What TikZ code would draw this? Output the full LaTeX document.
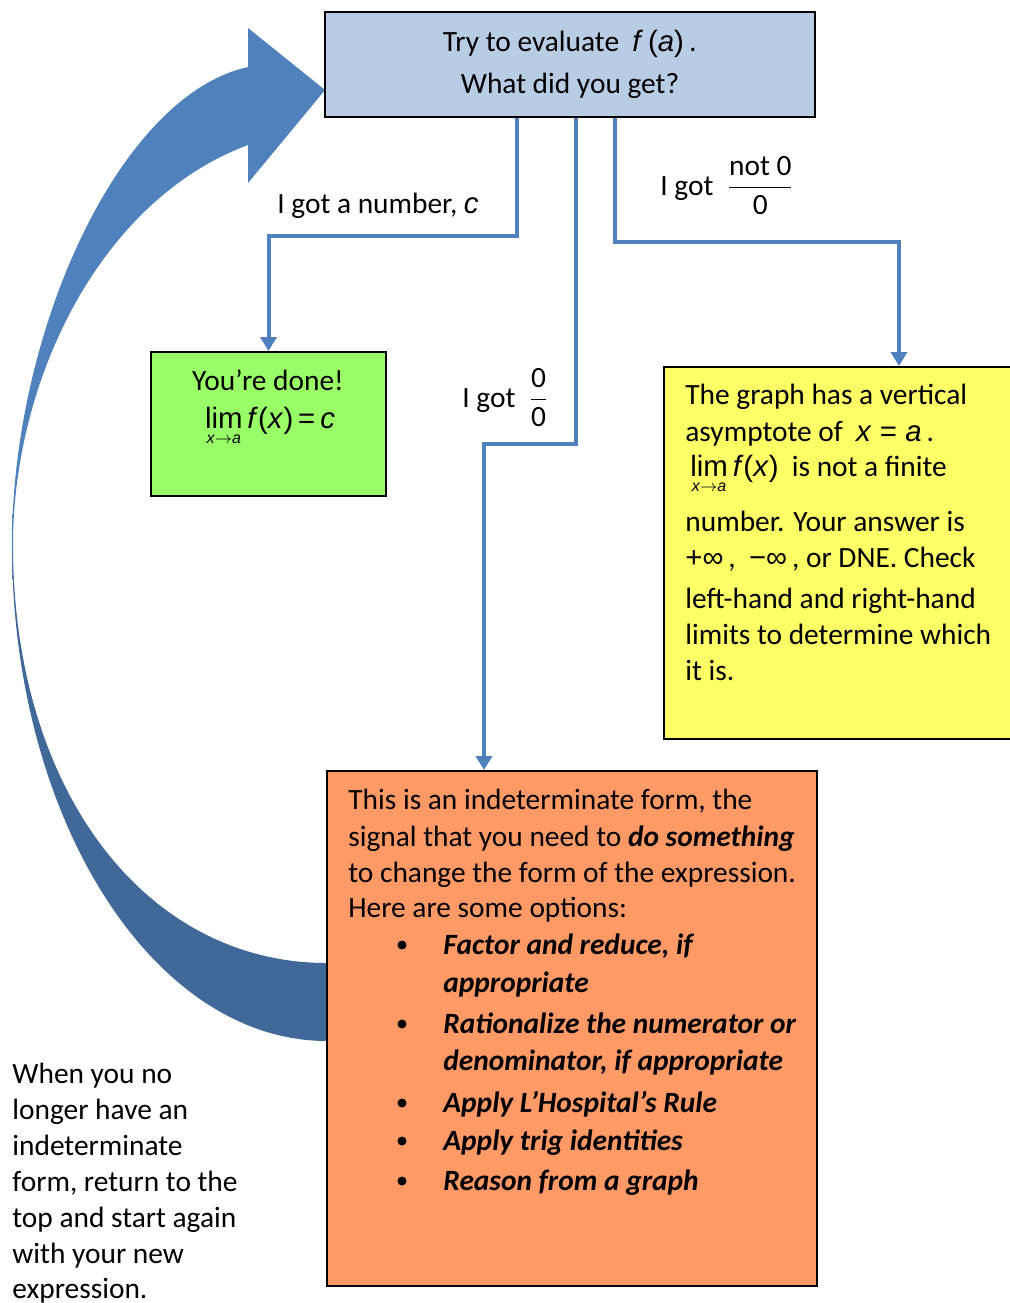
\documentclass[tikz,border=0pt]{standalone}
\usepackage{fontspec}
\setmainfont{Carlito}
\newfontfamily\eqfont{Liberation Sans}
\usetikzlibrary{arrows.meta, calc, positioning}
\definecolor{topBlue}{HTML}{B8CCE4}
\definecolor{doneGreen}{HTML}{99FF66}
\definecolor{asymYellow}{HTML}{FFFF66}
\definecolor{indetOrange}{HTML}{FF9966}
\definecolor{flowBlue}{HTML}{4F81BD}
\definecolor{loopDark}{HTML}{406899}
\pgfdeclareverticalshading{loopshade}{100bp}{color(0bp)=(loopDark); color(47bp)=(loopDark); color(50bp)=(flowBlue); color(100bp)=(flowBlue)}
\newcommand{\bodyfont}{\fontsize{14.7}{18}\selectfont}
\newcommand{\eqtxt}[1]{{\eqfont #1}}
\newcommand{\limxa}{\vtop{\baselineskip=7.6pt\lineskiplimit=-\maxdimen
  \halign{\hfil##\hfil\cr \eqfont lim\cr
  \eqfont\fontsize{8}{8}\selectfont\textit{x}$\rightarrow$\textit{a}\cr}}}

\begin{document}
\begin{tikzpicture}[x=0.5pt, y=-0.5pt,
	box/.style={draw=black, line width=1pt, inner sep=0pt},
	flow/.style={draw=flowBlue, line width=2pt, -{Triangle[width=8pt, length=7pt]}},
	txtline/.style={anchor=base west, inner sep=0pt, font=\bodyfont},
	bul/.style={circle, fill=black, inner sep=0pt, minimum size=4.5pt}]
	\useasboundingbox (0,0) rectangle (1010,1303);
	% loop back to the top
	\shade[shading=loopshade] (327,1041) .. controls (153,1041) and (12,819) .. (12,545)
		.. controls (12,330) and (120,95) .. (248,67) -- (248,28) -- (325,90) -- (248,183) -- (248,145)
		.. controls (100,200) and (13,380) .. (13,545) .. controls (13,790) and (145,963) .. (327,963) -- cycle;
	% boxes
	\node[box, fill=topBlue, minimum width=245pt, minimum height=52.5pt, align=center, font=\bodyfont] (try) at (570,64.5)
		{Try to evaluate ~\eqtxt{\textit{f}\,(\textit{a})\,.}\\[3pt]What did you get?};
	\node[box, fill=doneGreen, minimum width=117.5pt, minimum height=72pt] (done) at (268.5,424) {};
	\node[box, fill=asymYellow, minimum width=235pt, minimum height=186pt] (asym) at (899,553) {};
	\node[box, fill=indetOrange, minimum width=245pt, minimum height=257.5pt] (indet) at (572,1028.5) {};
	% connectors
	\draw[flow] ($(try.south)+(-53,0)$) -- ++(0,118) -| (done.north);
	\draw[flow] ($(try.south)+(6,0)$) -- ++(0,326) -| ($(indet.north)+(-88,0)$);
	\draw[flow] ($(try.south)+(45,0)$) -- ++(0,124) -| (asym.north);
	\node[txtline] (gotnum) at (277,213) {I got a number, \eqtxt{\textit{c}}};
	\node[txtline] (gotnotzero) at (660,195) {I got ~${\displaystyle\frac{\mbox{not 0}}{\mbox{0}}}$};
	\node[txtline] (gotzero) at (462,407) {I got ~${\displaystyle\frac{\mbox{0}}{\mbox{0}}}$};
	% green box
	\node[txtline, anchor=base] (done1) at (268,390) {You’re done!};
	\node[txtline, anchor=base] (done2) at (270,428) {\limxa\,\eqtxt{\textit{f}(\textit{x})\,=\,\textit{c}}};
	% yellow box
	\foreach \y/\txt [count=\i] in {
		404/{The graph has a vertical},
		441/{asymptote of ~\eqtxt{\textit{x} = \textit{a}}\,.},
		476/{\,\limxa\,\eqtxt{\textit{f}(\textit{x})} ~is not a finite},
		531/{number. Your answer is},
		567/{\eqtxt{+∞}\,, ~\eqtxt{−∞}\,, or DNE. Check},
		608/{left-hand and right-hand},
		644/{limits to determine which},
		680/{it is.}
	}{
		\node[txtline] (asym\i) at (685,\y) {\txt};
	}
	% orange box
	\foreach \y/\txt [count=\i] in {
		809/{This is an indeterminate form, the},
		846/{signal that you need to \textbf{\textit{do something}}},
		882/{to change the form of the expression.},
		917/{Here are some options:}
	}{
		\node[txtline] (indet\i) at (348,\y) {\txt};
	}
	\foreach \y/\txt [count=\i] in {
		954/{Factor and reduce, if},
		992/{appropriate},
		1033/{Rationalize the numerator or},
		1070/{denominator, if appropriate},
		1112/{Apply L’Hospital’s Rule},
		1150/{Apply trig identities},
		1190/{Reason from a graph}
	}{
		\node[txtline, font=\bodyfont\bfseries\itshape] (opt\i) at (443,\y) {\txt};
	}
	\foreach \y [count=\i] in {945, 1024, 1103, 1141, 1181}
		\node[bul] (bul\i) at (402,\y) {};
	% note at the bottom left
	\foreach \y/\txt [count=\i] in {
		1083/{When you no},
		1119/{longer have an},
		1155/{indeterminate},
		1191/{form, return to the},
		1227/{top and start again},
		1263/{with your new},
		1298/{expression.}
	}{
		\node[txtline] (note\i) at (12,\y) {\txt};
	}
\end{tikzpicture}
\end{document}
